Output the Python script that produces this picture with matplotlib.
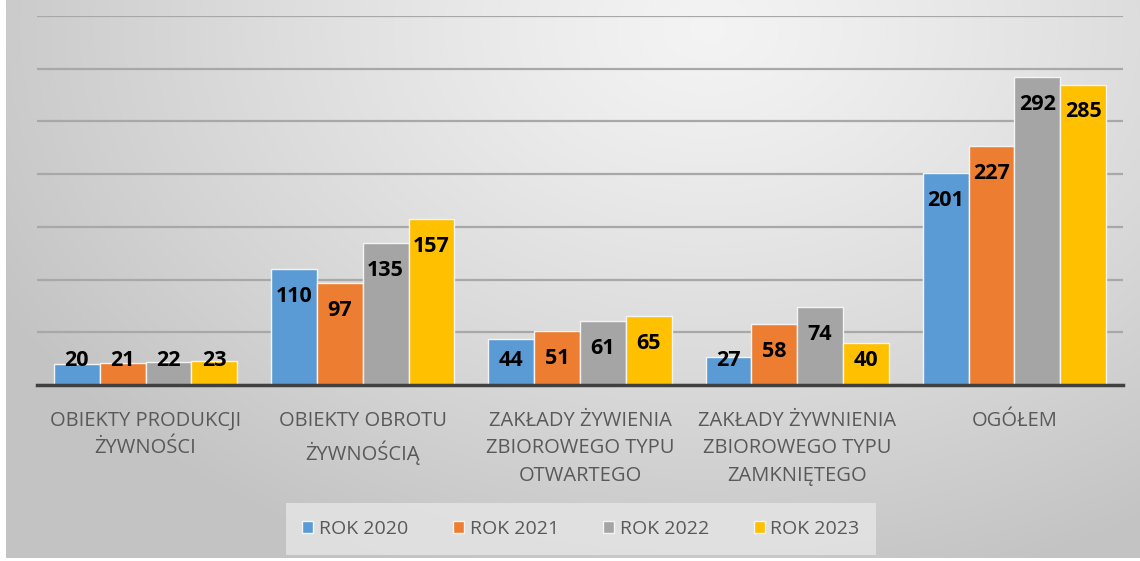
import numpy as np
import matplotlib.pyplot as plt

plt.rcParams['font.family'] = ['Open Sans', 'DejaVu Sans']

# ==========================================
# DATA
# ==========================================
categories = [
    'OBIEKTY PRODUKCJI\nŻYWNOŚCI',
    'OBIEKTY OBROTU\nŻYWNOŚCIĄ',
    'ZAKŁADY ŻYWIENIA\nZBIOROWEGO TYPU\nOTWARTEGO',
    'ZAKŁADY ŻYWNIENIA\nZBIOROWEGO TYPU\nZAMKNIĘTEGO',
    'OGÓŁEM',
]
years = ['ROK 2020', 'ROK 2021', 'ROK 2022', 'ROK 2023']
rok_2020 = [20, 110, 44, 27, 201]
rok_2021 = [21, 97, 51, 58, 227]
rok_2022 = [22, 135, 61, 74, 292]
rok_2023 = [23, 157, 65, 40, 285]
series = [rok_2020, rok_2021, rok_2022, rok_2023]
colors = ['#5B9BD5', '#ED7D31', '#A5A5A5', '#FFC000']

# ==========================================
# FIGURE + GRADIENT BACKGROUND
# ==========================================
fig = plt.figure(figsize=(11.4, 5.61), dpi=100)
fig.patch.set_facecolor('white')

bg = fig.add_axes([6 / 1140, 3 / 561, 1134 / 1140, 558 / 561], zorder=-5)
gx, gy = np.meshgrid(np.linspace(0, 1, 400), np.linspace(0, 1, 200))
r = np.sqrt(((gx - 0.62) / 0.72) ** 2 + ((gy - 0.05) / 1.05) ** 2)
r = np.clip(r, 0, 1)
shade = 0.955 - 0.19 * r ** 1.2
bg.imshow(np.dstack([shade, shade, shade]), aspect='auto', extent=(0, 1, 1, 0))
bg.axis('off')

ax = fig.add_axes([37 / 1140, 1 - 385 / 561, (1123 - 37) / 1140, 369 / 561])
ax.set_facecolor('none')

x = np.arange(len(categories))
width = 0.211
for i, (vals, col, lab) in enumerate(zip(series, colors, years)):
    pos = x + (i - 1.5) * width
    ax.bar(pos, vals, width, color=col, edgecolor='#f4f4f4', linewidth=1.0,
           label=lab, zorder=3)
    for px, v in zip(pos, vals):
        ax.text(px, max(v - 26, 23), str(v), ha='center', va='center',
                fontsize=15.5, fontweight='bold', color='black', zorder=4)

ax.set_xlim(-0.5, len(categories) - 0.5)
ax.set_ylim(0, 350)
ax.set_yticks(np.arange(0, 351, 50))
ax.yaxis.grid(True, color='#a8a8a8', linewidth=1.6, zorder=0)
ax.set_axisbelow(True)
ax.tick_params(axis='y', left=False, labelleft=False)
ax.tick_params(axis='x', bottom=False, pad=15, labelsize=14.5, labelcolor='#595959')
ax.set_xticks(x)
ax.set_xticklabels(categories, linespacing=1.5)
for s in ['top', 'right', 'left']:
    ax.spines[s].set_visible(False)
ax.spines['bottom'].set_color('#404040')
ax.spines['bottom'].set_linewidth(2.5)
ax.spines['bottom'].set_zorder(5)

leg = ax.legend(loc='center', bbox_to_anchor=(581 / 1140, 1 - 529 / 561),
                bbox_transform=fig.transFigure, ncol=4, frameon=True,
                fontsize=14, handlelength=0.55, handleheight=0.55,
                handletextpad=0.3, columnspacing=2.3, borderpad=0.55,
                borderaxespad=0)
leg.get_frame().set_facecolor('#e6e6e6')
leg.get_frame().set_edgecolor('none')
leg.get_frame().set_boxstyle('square')
for t in leg.get_texts():
    t.set_color('#595959')

fig.savefig('out.png', dpi=100)
